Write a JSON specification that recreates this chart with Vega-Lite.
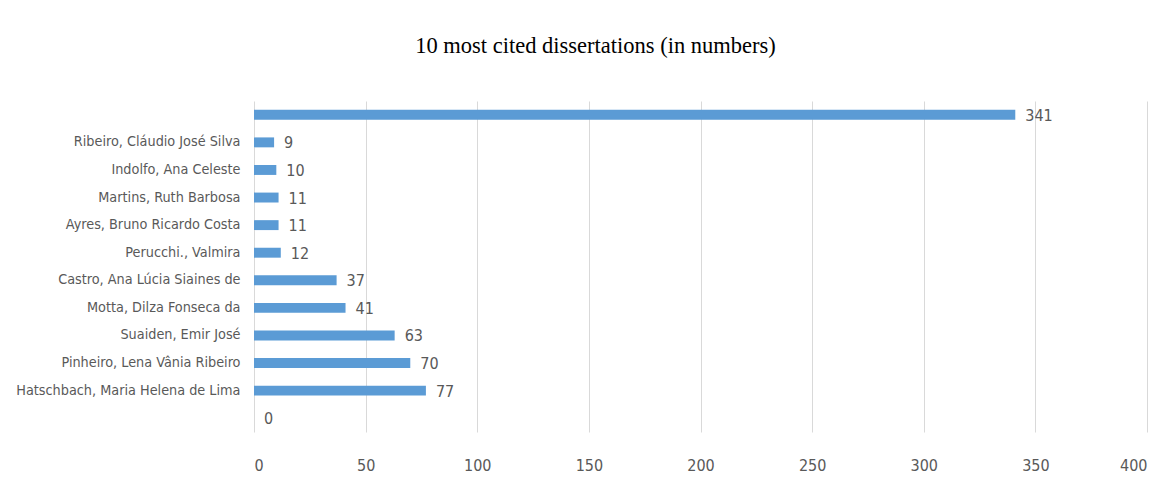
{
  "$schema": "https://vega.github.io/schema/vega-lite/v6.json",
  "autosize": "none",
  "width": 893,
  "height": 331,
  "padding": {"left": 254, "top": 101, "right": 19, "bottom": 60},
  "background": "white",
  "title": {
    "text": "10 most cited dissertations (in numbers)",
    "font": "Liberation Serif",
    "fontSize": 22.5,
    "fontWeight": "normal",
    "color": "#000000",
    "anchor": "middle",
    "dx": -105,
    "offset": 44
  },
  "data": {
    "values": [
      {"pos": 1, "name": "", "citations": 341},
      {"pos": 2, "name": "Ribeiro, Cláudio José Silva", "citations": 9},
      {"pos": 3, "name": "Indolfo, Ana Celeste", "citations": 10},
      {"pos": 4, "name": "Martins, Ruth Barbosa", "citations": 11},
      {"pos": 5, "name": "Ayres, Bruno Ricardo Costa", "citations": 11},
      {"pos": 6, "name": "Perucchi., Valmira", "citations": 12},
      {"pos": 7, "name": "Castro, Ana Lúcia Siaines de", "citations": 37},
      {"pos": 8, "name": "Motta, Dilza Fonseca da", "citations": 41},
      {"pos": 9, "name": "Suaiden, Emir José", "citations": 63},
      {"pos": 10, "name": "Pinheiro, Lena Vânia Ribeiro", "citations": 70},
      {"pos": 11, "name": "Hatschbach, Maria Helena de Lima", "citations": 77},
      {"pos": 12, "name": " ", "citations": 0}
    ]
  },
  "encoding": {
    "y": {
      "field": "name",
      "type": "nominal",
      "sort": {"field": "pos", "order": "ascending"},
      "scale": {"paddingInner": 0.64, "paddingOuter": 0.32},
      "axis": {
        "title": null,
        "domain": false,
        "ticks": false,
        "grid": false,
        "labelFont": "DejaVu Sans Condensed",
        "labelFontSize": 14.3,
        "labelColor": "#595959",
        "labelPadding": 14,
        "labelLimit": 400
      }
    },
    "x": {
      "field": "citations",
      "type": "quantitative",
      "scale": {"domain": [0, 400], "nice": false},
      "axis": {
        "title": null,
        "values": [0, 50, 100, 150, 200, 250, 300, 350, 400],
        "domain": false,
        "ticks": false,
        "grid": true,
        "gridColor": "#d9d9d9",
        "gridWidth": 1,
        "labelFont": "DejaVu Sans Condensed",
        "labelFontSize": 16,
        "labelColor": "#595959",
        "labelPadding": 25
      }
    }
  },
  "layer": [
    {
      "mark": {"type": "bar", "color": "#5B9BD5"}
    },
    {
      "mark": {
        "type": "text",
        "align": "left",
        "baseline": "middle",
        "dx": 10,
        "dy": 1,
        "font": "DejaVu Sans Condensed",
        "fontSize": 16,
        "color": "#595959"
      },
      "encoding": {"text": {"field": "citations", "type": "quantitative"}}
    }
  ],
  "config": {"view": {"stroke": null}}
}
